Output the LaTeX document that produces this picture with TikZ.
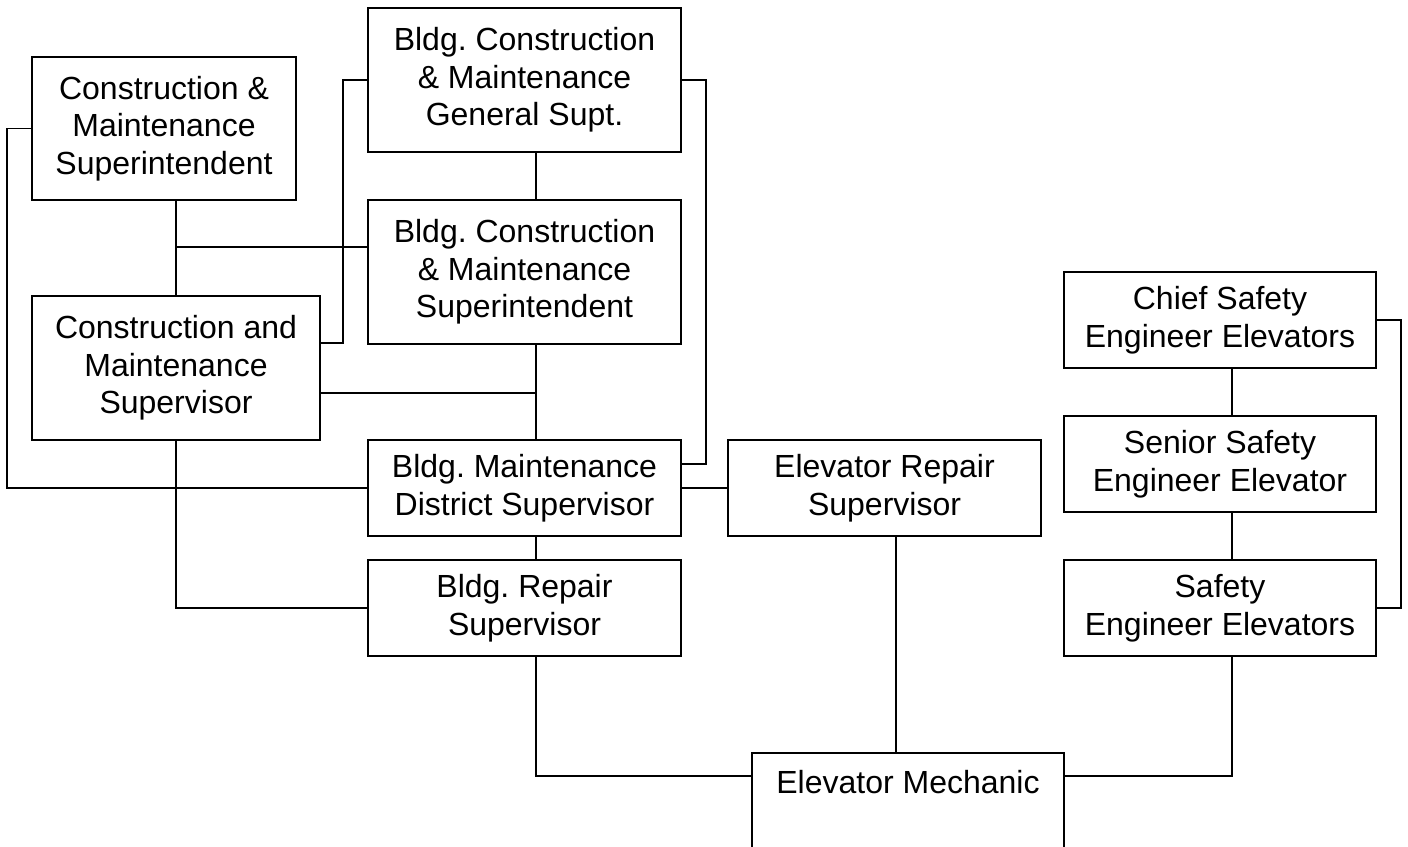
\documentclass[tikz,border=0pt]{standalone}
\usepackage{fontspec}
\setmainfont{Liberation Sans}
\usetikzlibrary{calc}
\frenchspacing
\begin{document}
\begin{tikzpicture}[x=1pt,y=-1pt,
  txt/.style={font=\fontsize{32}{37.5}\selectfont, align=center, inner sep=0pt},
  box/.style={txt, draw, line width=1.8pt},
  conn/.style={line width=1.8pt}]
\useasboundingbox (0,0) rectangle (1408,846);
% boxes
\node[box, minimum width=264, minimum height=143] (b1) at (164,128.5) {Construction \&\\Maintenance\\Superintendent};
\node[box, minimum width=313, minimum height=144] (b2) at (524.5,80) {Bldg. Construction\\\& Maintenance\\General Supt.};
\node[box, minimum width=313, minimum height=144] (b3) at (524.5,272) {Bldg. Construction\\\& Maintenance\\Superintendent};
\node[box, minimum width=288, minimum height=144] (b4) at (176,368) {Construction and\\Maintenance\\Supervisor};
\node[box, minimum width=313, minimum height=96] (b5) at (524.5,488) {Bldg. Maintenance\\District Supervisor};
\node[box, minimum width=313, minimum height=96] (b6) at (884.5,488) {Elevator Repair\\Supervisor};
\node[box, minimum width=313, minimum height=96] (b7) at (524.5,608) {Bldg. Repair\\Supervisor};
\node[box, minimum width=312, minimum height=96] (b8) at (1220,320) {Chief Safety\\Engineer Elevators};
\node[box, minimum width=312, minimum height=96] (b9) at (1220,464) {Senior Safety\\Engineer Elevator};
\node[box, minimum width=312, minimum height=96] (b10) at (1220,608) {Safety\\Engineer Elevators};
\node[box, anchor=north, minimum width=312, minimum height=200] (mech) at (908,752) {};
\node[txt, anchor=base] (mechtext) at (908,793) {Elevator Mechanic};
% connectors
\draw[conn] (b1.west) -- ++(-24,0) |- (b5.west);
\draw[conn] (b4.north) -- (b4.north |- b1.south);
\coordinate (b3w) at ($(b3.north west)+(0,48)$);
\draw[conn] (b4.north |- b3w) -- (b3w);
\coordinate (b4e) at ($(b4.north east)+(0,48)$);
\draw[conn] (b4e) -| ($(b2.west)+(-24,0)$) -- (b2.west);
\draw[conn] ($(b2.south)+(11.5,0)$) -- ($(b3.north)+(11.5,0)$);
\coordinate (sp3) at ($(b3.south)+(11.5,0)$);
\draw[conn] (sp3) -- ($(b5.north)+(11.5,0)$);
\coordinate (b4e2) at ($(b4.east)+(0,25)$);
\draw[conn] (b4e2) -- (sp3 |- b4e2);
\draw[conn] (b2.east) -- ++(24,0) |- ($(b5.east)+(0,-24)$);
\draw[conn] (b5.east) -- (b6.west);
\draw[conn] ($(b5.south)+(11.5,0)$) -- ($(b7.north)+(11.5,0)$);
\draw[conn] (b4.south) |- (b7.west);
\coordinate (mechL) at ($(mech.north west)+(0,24)$);
\coordinate (mechR) at ($(mech.north east)+(0,24)$);
\draw[conn] ($(b7.south)+(11.5,0)$) |- (mechL);
\coordinate (b6s) at ($(b6.south)+(11.5,0)$);
\draw[conn] (b6s) -- (b6s |- mech.north);
\draw[conn] ($(b10.south)+(12,0)$) |- (mechR);
\draw[conn] ($(b8.south)+(12,0)$) -- ($(b9.north)+(12,0)$);
\draw[conn] ($(b9.south)+(12,0)$) -- ($(b10.north)+(12,0)$);
\draw[conn] (b8.east) -- ++(24,0) |- (b10.east);
\end{tikzpicture}
\end{document}
